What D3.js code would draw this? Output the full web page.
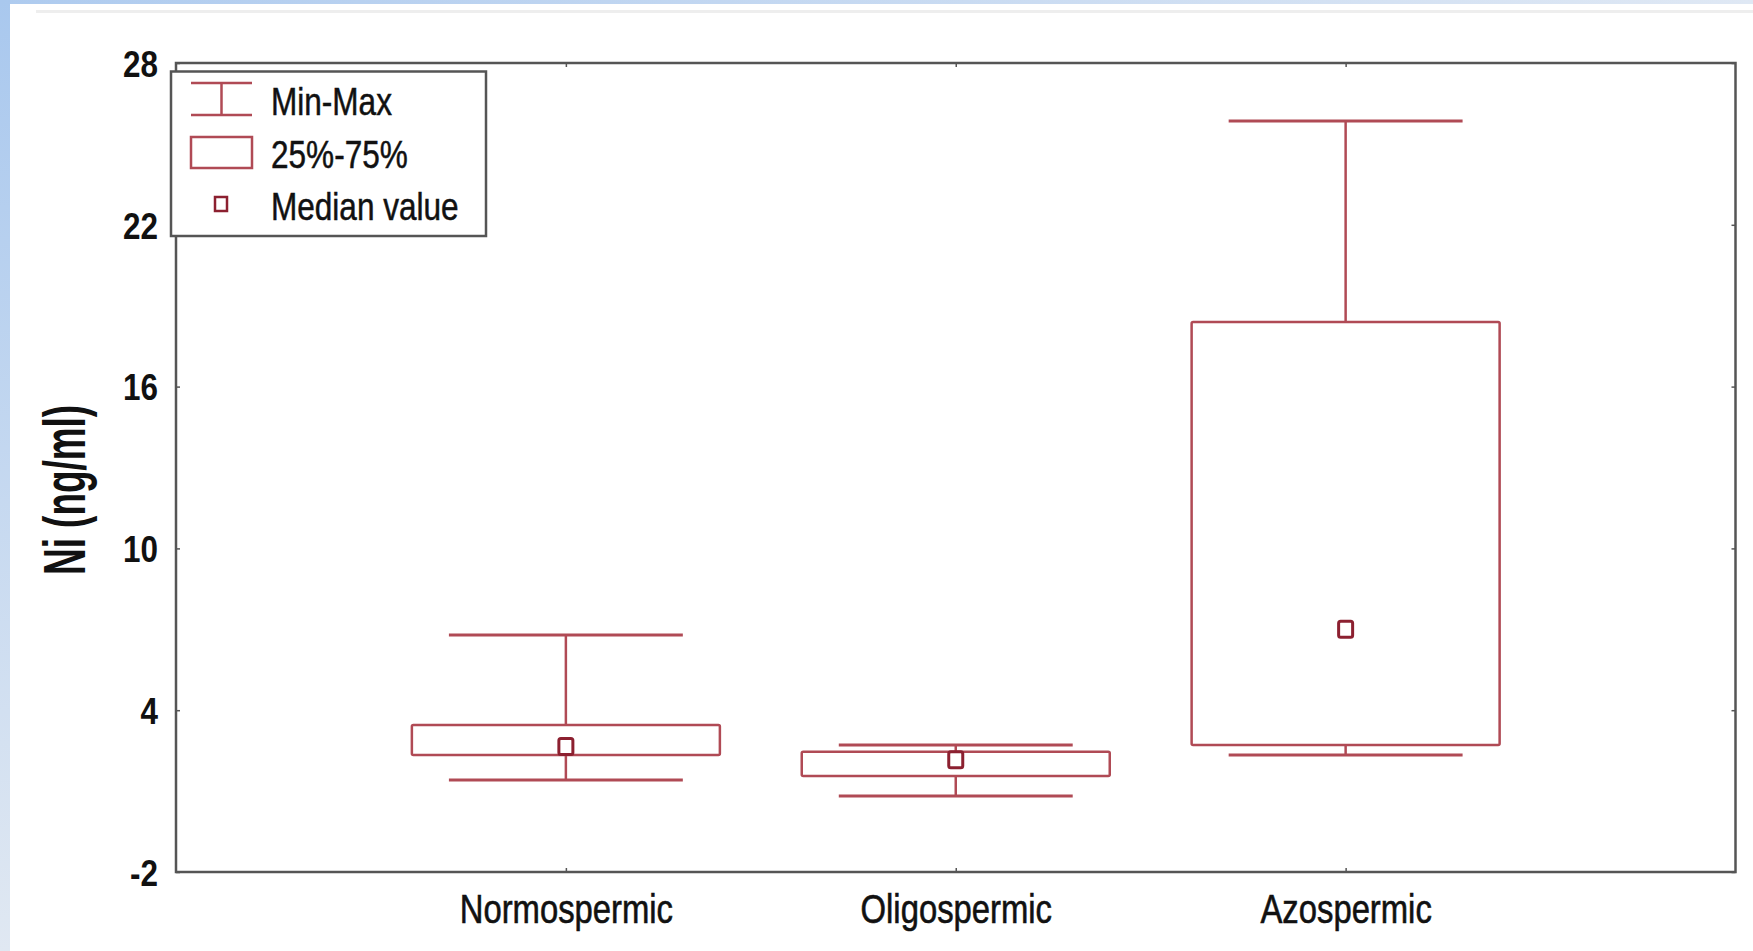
<!DOCTYPE html>
<html>
<head>
<meta charset="utf-8">
<script src="https://cdn.jsdelivr.net/npm/d3@7"></script>
<style>
  html, body { margin: 0; padding: 0; background: #ffffff; }
  svg { display: block; }
</style>
</head>
<body>
<script>
// ---- data ----
const categories = ["Normospermic", "Oligospermic", "Azospermic"];
const minValues = [1.41, 0.82, 2.34];
const q1Values = [2.34, 1.56, 2.71];
const medianValues = [2.65, 2.16, 7.0];
const q3Values = [3.45, 2.46, 18.4];
const maxValues = [6.79, 2.71, 25.85];
const yTickValues = [-2, 4, 10, 16, 22, 28];
const legendLabels = ["Min-Max", "25%-75%", "Median value"];
const yLabel = "Ni (ng/ml)";

const W = 1753, H = 951;
const plot = { left: 176, right: 1735.5, top: 63, bottom: 872 };
const boxColor = "#b04a55";
const medColor = "#8c2030";
const frameColor = "#555555";
const sans = "'Liberation Sans', Arial, sans-serif";
const NARROW = 0.82;

function condense(sel, factor) {
  sel.each(function () {
    const len = this.getComputedTextLength();
    d3.select(this).attr("textLength", len * factor).attr("lengthAdjust", "spacingAndGlyphs");
  });
}

const svg = d3.select("body").append("svg").attr("width", W).attr("height", H);
const defs = svg.append("defs");
const gl = defs.append("linearGradient").attr("id", "gLeft").attr("x1", 0).attr("y1", 0).attr("x2", 0).attr("y2", 1);
gl.append("stop").attr("offset", 0).attr("stop-color", "#a9c8ee");
gl.append("stop").attr("offset", 1).attr("stop-color", "#e0e8f2");
const gt = defs.append("linearGradient").attr("id", "gTop").attr("x1", 0).attr("y1", 0).attr("x2", 1).attr("y2", 0);
gt.append("stop").attr("offset", 0).attr("stop-color", "#aecbef");
gt.append("stop").attr("offset", 1).attr("stop-color", "#dfe8f4");

svg.append("rect").attr("width", W).attr("height", H).attr("fill", "#ffffff");
svg.append("rect").attr("x", 0).attr("y", 0).attr("width", W).attr("height", 4).attr("fill", "url(#gTop)");
svg.append("rect").attr("x", 0).attr("y", 0).attr("width", 10).attr("height", H).attr("fill", "url(#gLeft)");
svg.append("rect").attr("x", 36).attr("y", 10).attr("width", W - 36).attr("height", 3).attr("fill", "#eeeeee");

// ---- scales ----
const y = d3.scaleLinear().domain([-2, 28]).range([plot.bottom, plot.top]);
const x = d3.scalePoint().domain(categories).range([plot.left, plot.right]).padding(1);
const step = x.step();
const boxW = step * 0.79;
const capW = step * 0.6;

// ---- axes ----
const yAxis = svg.append("g").attr("transform", `translate(${plot.left},0)`)
  .call(d3.axisLeft(y).tickValues(yTickValues).tickSizeInner(-4).tickSizeOuter(0).tickPadding(18)
    .tickFormat(d => String(d).replace("\u2212", "-")));
yAxis.select(".domain").remove();
yAxis.selectAll(".tick line").attr("stroke", frameColor).attr("stroke-width", 1.5);
yAxis.selectAll(".tick text")
  .attr("font-family", sans).attr("font-size", 37).attr("font-weight", "bold")
  .attr("fill", "#111").attr("dy", "0.36em");
condense(yAxis.selectAll(".tick text"), 0.85);

const yAxisR = svg.append("g").attr("transform", `translate(${plot.right},0)`)
  .call(d3.axisRight(y).tickValues(yTickValues).tickSizeInner(-4).tickSizeOuter(0).tickFormat(""));
yAxisR.select(".domain").remove();
yAxisR.selectAll(".tick line").attr("stroke", frameColor).attr("stroke-width", 1.5);

const xAxis = svg.append("g").attr("transform", `translate(0,${plot.bottom})`)
  .call(d3.axisBottom(x).tickSizeInner(-4).tickSizeOuter(0).tickPadding(0));
xAxis.select(".domain").remove();
xAxis.selectAll(".tick line").attr("stroke", frameColor).attr("stroke-width", 1.5);
xAxis.selectAll(".tick text")
  .attr("font-family", sans).attr("font-size", 40)
  .attr("fill", "#111").attr("stroke", "#111").attr("stroke-width", 0.6)
  .attr("y", 51).attr("dy", 0);
condense(xAxis.selectAll(".tick text"), NARROW);

const xAxisT = svg.append("g").attr("transform", `translate(0,${plot.top})`)
  .call(d3.axisTop(x).tickSizeInner(-4).tickSizeOuter(0).tickFormat(""));
xAxisT.select(".domain").remove();
xAxisT.selectAll(".tick line").attr("stroke", frameColor).attr("stroke-width", 1.5);

// frame
svg.append("rect")
  .attr("x", plot.left).attr("y", plot.top)
  .attr("width", plot.right - plot.left).attr("height", plot.bottom - plot.top)
  .attr("fill", "none").attr("stroke", frameColor).attr("stroke-width", 2.5);

// y label
svg.append("text")
  .attr("transform", `translate(85,490) rotate(-90)`)
  .attr("text-anchor", "middle")
  .attr("font-family", sans)
  .attr("font-weight", "bold").attr("font-size", 60)
  .attr("textLength", 170).attr("lengthAdjust", "spacingAndGlyphs")
  .attr("fill", "#111")
  .text(yLabel);

// ---- boxes ----
const data = categories.map((c, i) => ({
  c, min: minValues[i], q1: q1Values[i], med: medianValues[i], q3: q3Values[i], max: maxValues[i]
}));
const g = svg.append("g").attr("fill", "none").attr("stroke", boxColor).attr("stroke-width", 2.5);
const item = g.selectAll("g.item").data(data).join("g").attr("class", "item");
item.append("line").attr("x1", d => x(d.c)).attr("x2", d => x(d.c))
  .attr("y1", d => y(d.max)).attr("y2", d => y(d.q3));
item.append("line").attr("x1", d => x(d.c)).attr("x2", d => x(d.c))
  .attr("y1", d => y(d.q1)).attr("y2", d => y(d.min));
item.append("line").attr("x1", d => x(d.c) - capW / 2).attr("x2", d => x(d.c) + capW / 2)
  .attr("y1", d => y(d.max)).attr("y2", d => y(d.max)).attr("stroke-width", 3);
item.append("line").attr("x1", d => x(d.c) - capW / 2).attr("x2", d => x(d.c) + capW / 2)
  .attr("y1", d => y(d.min)).attr("y2", d => y(d.min)).attr("stroke-width", 3);
item.append("rect")
  .attr("x", d => x(d.c) - boxW / 2).attr("width", boxW)
  .attr("y", d => y(d.q3)).attr("height", d => y(d.q1) - y(d.q3))
  .attr("rx", 1.5);
item.append("rect")
  .attr("x", d => x(d.c) - 7).attr("width", 14)
  .attr("y", d => y(d.med) - 8).attr("height", 16)
  .attr("fill", "#ffffff").attr("stroke", medColor).attr("stroke-width", 3).attr("rx", 2);

// ---- legend ----
const lg = svg.append("g");
lg.append("rect").attr("x", 171).attr("y", 71.5).attr("width", 315).attr("height", 164.5)
  .attr("fill", "#ffffff").attr("stroke", frameColor).attr("stroke-width", 2.5);
const rowY = [101, 154, 206];
const ic = lg.append("g").attr("stroke", boxColor).attr("stroke-width", 2.5).attr("fill", "none");
ic.append("line").attr("x1", 191).attr("x2", 252).attr("y1", 83).attr("y2", 83);
ic.append("line").attr("x1", 191).attr("x2", 252).attr("y1", 115).attr("y2", 115);
ic.append("line").attr("x1", 221.5).attr("x2", 221.5).attr("y1", 83).attr("y2", 115);
ic.append("rect").attr("x", 191).attr("y", 137).attr("width", 61).attr("height", 31);
ic.append("rect").attr("x", 215).attr("y", 197).attr("width", 12).attr("height", 14)
  .attr("stroke", medColor).attr("stroke-width", 2.5);
const legText = lg.selectAll("text.leg").data(legendLabels).join("text").attr("class", "leg")
  .attr("x", 271).attr("y", (d, i) => rowY[i]).attr("dy", "0.36em")
  .attr("font-family", sans).attr("font-size", 38)
  .attr("fill", "#111").attr("stroke", "#111").attr("stroke-width", 0.5)
  .text(d => d);
condense(legText, 0.83);
</script>
</body>
</html>
